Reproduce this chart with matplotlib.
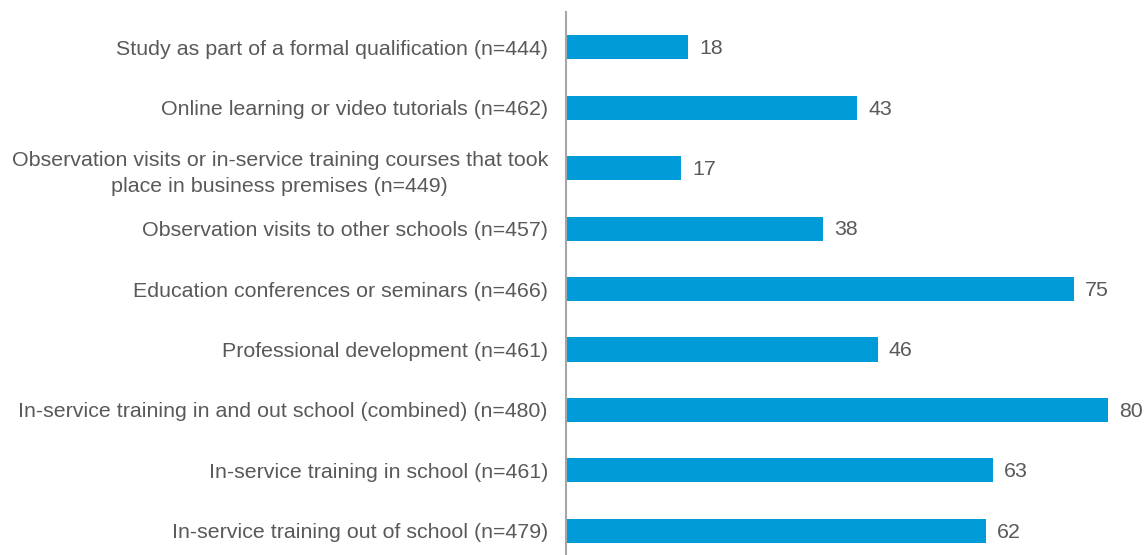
import matplotlib.pyplot as plt

# categories listed top to bottom
categories = [
    "Study as part of a formal qualification (n=444)",
    "Online learning or video tutorials (n=462)",
    "Observation visits or in-service training courses that took\nplace in business premises (n=449)",
    "Observation visits to other schools (n=457)",
    "Education conferences or seminars (n=466)",
    "Professional development (n=461)",
    "In-service training in and out school (combined) (n=480)",
    "In-service training in school (n=461)",
    "In-service training out of school (n=479)",
]
values = [18, 43, 17, 38, 75, 46, 80, 63, 62]

plt.rcParams['font.family'] = ['Liberation Sans', 'DejaVu Sans']
text_col = '#595959'

fig = plt.figure(figsize=(11.47, 5.55), dpi=100)
ax = fig.add_axes([0.4935, 0.0, 0.5065, 0.978])

pos = list(range(len(categories)))
ax.barh(pos, values, height=0.4, color='#009CDA')

for p, v in zip(pos, values):
    ax.annotate(str(v), xy=(v, p), xytext=(8, -1), textcoords='offset points',
                va='center', ha='left', fontsize=15.4, color=text_col)

ax.set_xlim(0, 85.8)
ax.set_ylim(8.4, -0.58)
ax.set_yticks(pos)
ax.set_yticklabels(categories, fontsize=15.4, color=text_col)
for lab in ax.get_yticklabels():
    lab.set_multialignment('center')
    lab.set_linespacing(1.45)
ax.tick_params(axis='y', length=0, pad=13)
ax.set_xticks([])

for s in ['top', 'right', 'bottom']:
    ax.spines[s].set_visible(False)
ax.spines['left'].set_color('#A6A6A6')
ax.spines['left'].set_linewidth(1.5)

fig.savefig('out.png', dpi=100)
